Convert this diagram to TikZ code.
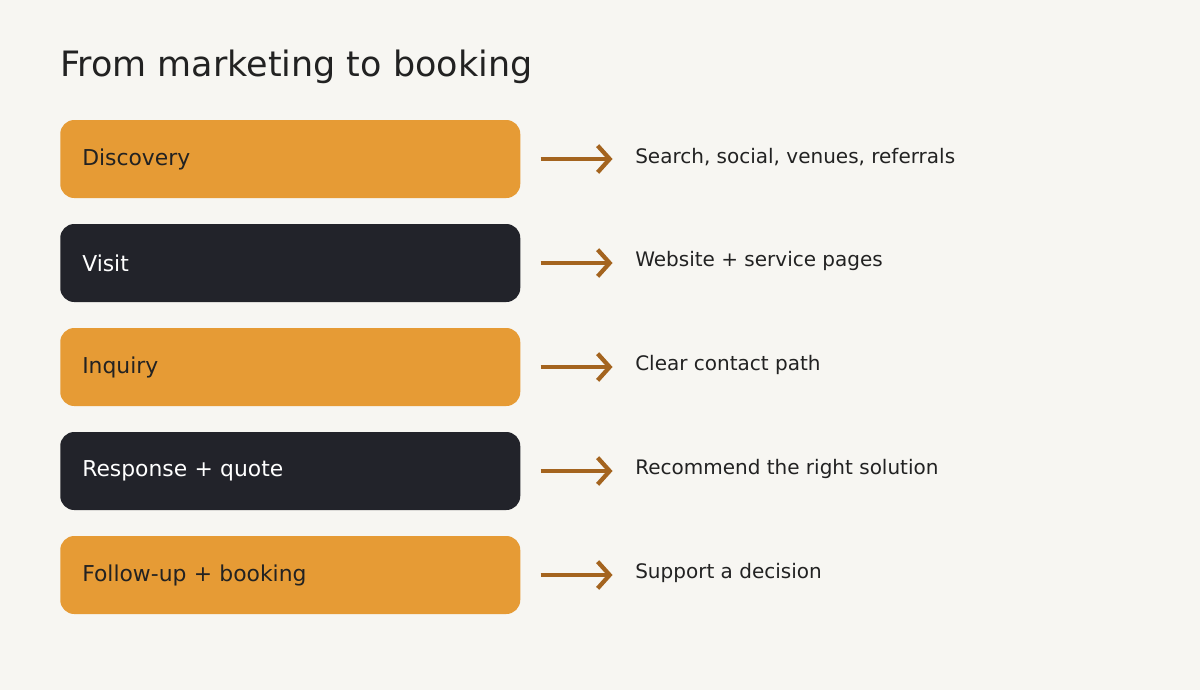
\documentclass[tikz,border=0pt]{standalone}
\usepackage{fontspec}
\setmainfont{DejaVu Sans}
\usetikzlibrary{positioning}
\usetikzlibrary{arrows.meta}
\definecolor{stageorange}{HTML}{E69B35}
\definecolor{stagedark}{HTML}{22232A}
\definecolor{arrowbrown}{HTML}{A4641F}
\definecolor{paper}{HTML}{F7F6F2}
\definecolor{inktext}{HTML}{222222}

\begin{document}
\begin{tikzpicture}[x=0.75pt, y=-0.75pt,
    stage/.style={rectangle, rounded corners=10.5pt, minimum width=345pt,
        minimum height=58.5pt, anchor=west, text width=312pt, align=left,
        inner xsep=16.5pt, font=\fontsize{16.4}{19}\selectfont},
    light/.style={stage, fill=stageorange, text=inktext},
    dark/.style={stage, fill=stagedark, text=white},
    note/.style={anchor=west, inner xsep=0pt, text=inktext,
        font=\fontsize{15}{18}\selectfont},
    pointer/.style={draw=arrowbrown, line width=3pt,
        -{Straight Barb[length=9pt, width=20pt, line width=3.2pt]}}]

% Page layout
\fill [paper] (0,0) rectangle (1200,690);
\node [anchor=west, inner xsep=0pt, text=inktext, font=\fontsize{26.2}{31}\selectfont]
    (title) at (60,67) {From marketing to booking};

\node [light] (discovery) at (60,159) {Discovery};
\node [dark]  (visit)     at (60,263) {Visit};
\node [light] (inquiry)   at (60,367) {Inquiry};
\node [dark]  (response)  at (60,471) {Response + quote};
\node [light] (followup)  at (60,575) {Follow-up + booking};

\node [note] (search)    at (635,157) {Search, social, venues, referrals};
\node [note] (website)   at (635,261) {Website + service pages};
\node [note] (contact)   at (635,365) {Clear contact path};
\node [note] (recommend) at (635,469) {Recommend the right solution};
\node [note] (support)   at (635,573) {Support a decision};

\foreach \s/\n in {discovery/search, visit/website, inquiry/contact,
                   response/recommend, followup/support}
    \draw [pointer] ([xshift=15pt]\s.east) -- ([xshift=69pt]\s.east);

\end{tikzpicture}
\end{document}
